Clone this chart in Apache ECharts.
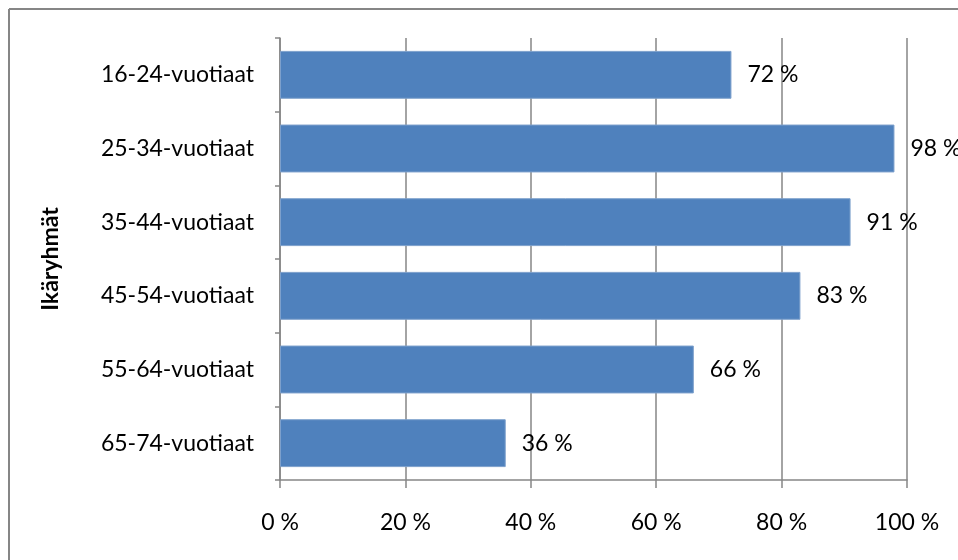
<!DOCTYPE html>
<html>
<head>
<meta charset="utf-8">
<script src="https://cdn.jsdelivr.net/npm/echarts@6/dist/echarts.min.js"></script>
<style>html,body{margin:0;padding:0;background:#fff;}#c{width:958px;height:560px;}</style>
</head>
<body>
<div id="c"></div>
<script>
const categories = ['16-24-vuotiaat','25-34-vuotiaat','35-44-vuotiaat','45-54-vuotiaat','55-64-vuotiaat','65-74-vuotiaat'];
const values = [72, 98, 91, 83, 66, 36];
const axisTitle = 'Ikäryhmät';
const FONT = 'Lato';
const chart = echarts.init(document.getElementById('c'), null, {renderer: 'canvas'});
chart.setOption({
  animation: false,
  backgroundColor: '#fff',
  grid: {left: 280, right: 51, top: 38, bottom: 80, containLabel: false},
  xAxis: {
    type: 'value', min: 0, max: 100, interval: 20,
    axisLine: {show: true, lineStyle: {color: '#868686', width: 1.5}},
    axisTick: {show: true, length: 8, lineStyle: {color: '#868686', width: 1.5}},
    splitLine: {show: true, lineStyle: {color: '#868686', width: 1.5}},
    axisLabel: {formatter: '{value} %', color: '#000', fontFamily: FONT, fontSize: 23, margin: 31}
  },
  yAxis: {
    type: 'category', data: categories, inverse: true,
    axisLine: {show: true, lineStyle: {color: '#868686', width: 1.5}},
    axisTick: {show: true, length: 5, inside: false, lineStyle: {color: '#868686', width: 1.5}},
    axisLabel: {color: '#000', fontFamily: FONT, fontSize: 23, margin: 26},
    name: axisTitle, nameLocation: 'middle', nameRotate: 90, nameGap: 218,
    nameTextStyle: {color: '#000', fontFamily: FONT, fontSize: 23, fontWeight: 'bold'}
  },
  series: [{
    type: 'bar', data: values, barCategoryGap: '35%',
    itemStyle: {color: '#4F81BD', borderColor: '#7DA0CC', borderWidth: 1},
    label: {show: true, position: 'right', distance: 16, formatter: '{c} %', color: '#000', fontFamily: FONT, fontSize: 23}
  }],
  graphic: [
    {type: 'line', shape: {x1: 9, y1: 9, x2: 958, y2: 9}, style: {stroke: '#868686', lineWidth: 2}},
    {type: 'line', shape: {x1: 9, y1: 9, x2: 9, y2: 560}, style: {stroke: '#868686', lineWidth: 2}}
  ]
});
</script>
</body>
</html>
